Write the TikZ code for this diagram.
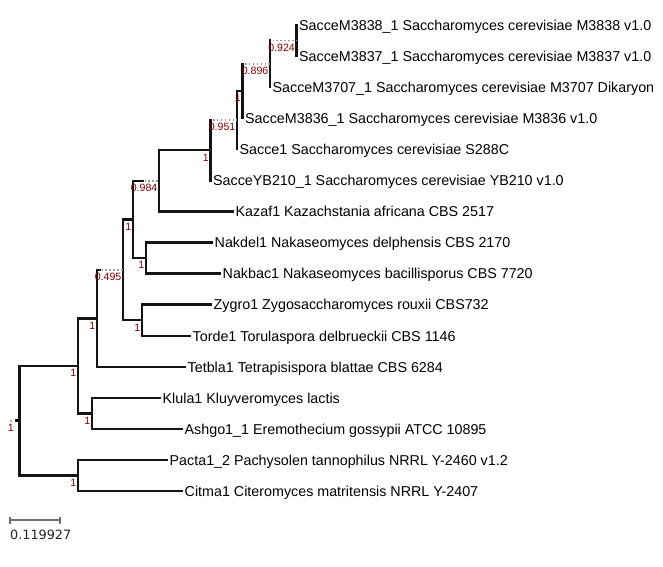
\documentclass[tikz,border=0pt]{standalone}
\usepackage{fontspec}
\setmainfont{Liberation Sans}
\newfontfamily\scalefont{DejaVu Sans}
\definecolor{suprt}{RGB}{128,0,0}
\definecolor{barg}{RGB}{110,110,110}
\begin{document}
\begin{tikzpicture}[x=1pt,y=-1pt,
  br/.style={line width=2.4pt,black!92,line cap=rect,line join=miter},
  dotbr/.style={line width=1.5pt,black!40,dash pattern=on 1.5pt off 2.4pt},
  leaf/.style={anchor=base west,inner sep=0pt,xshift=2.5pt,yshift=-5.3pt,font=\fontsize{14.3}{16}\selectfont},
  suplab/.style={anchor=base east,inner sep=0pt,text=suprt,font=\fontsize{10.6}{12}\selectfont},
  scalebar/.style={line width=1.6pt,barg}]
\useasboundingbox (0,0) rectangle (663,566);
% internal nodes
\coordinate (R) at (19.5,420.7);
\coordinate (N1) at (296.5,40.5);
\coordinate (N2) at (270,63.8);
\coordinate (N3) at (242.5,91);
\coordinate (N4) at (237,120.1);
\coordinate (N5) at (210.5,150.2);
\coordinate (N6) at (159,180.8);
\coordinate (N7) at (146,258);
\coordinate (N8) at (133,219.4);
\coordinate (N9) at (142,320.2);
\coordinate (N10) at (123,269.8);
\coordinate (N11) at (97,318.3);
\coordinate (N12) at (92,413.4);
\coordinate (N13) at (78,365.8);
\coordinate (N14) at (78,475.5);
% leaves
\coordinate (L1) at (296.5,25);
\coordinate (L2) at (296.5,56.07);
\coordinate (L3) at (270,87.14);
\coordinate (L4) at (242.5,118.21);
\coordinate (L5) at (237,149.28);
\coordinate (L6) at (210.5,180.35);
\coordinate (L7) at (233,211.42);
\coordinate (L8) at (212,242.49);
\coordinate (L9) at (220,273.56);
\coordinate (L10) at (211,304.63);
\coordinate (L11) at (190,335.7);
\coordinate (L12) at (185,366.77);
\coordinate (L13) at (160,397.84);
\coordinate (L14) at (182,428.91);
\coordinate (L15) at (167,459.98);
\coordinate (L16) at (182,491.05);
\node[leaf] (t1) at (L1) {SacceM3838\_1 Saccharomyces cerevisiae M3838 v1.0};
\node[leaf] (t2) at (L2) {SacceM3837\_1 Saccharomyces cerevisiae M3837 v1.0};
\node[leaf] (t3) at (L3) {SacceM3707\_1 Saccharomyces cerevisiae M3707 Dikaryon};
\node[leaf] (t4) at (L4) {SacceM3836\_1 Saccharomyces cerevisiae M3836 v1.0};
\node[leaf] (t5) at (L5) {Sacce1 Saccharomyces cerevisiae S288C};
\node[leaf] (t6) at (L6) {SacceYB210\_1 Saccharomyces cerevisiae YB210 v1.0};
\node[leaf] (t7) at (L7) {Kazaf1 Kazachstania africana CBS 2517};
\node[leaf] (t8) at (L8) {Nakdel1 Nakaseomyces delphensis CBS 2170};
\node[leaf] (t9) at (L9) {Nakbac1 Nakaseomyces bacillisporus CBS 7720};
\node[leaf] (t10) at (L10) {Zygro1 Zygosaccharomyces rouxii CBS732};
\node[leaf] (t11) at (L11) {Torde1 Torulaspora delbrueckii CBS 1146};
\node[leaf] (t12) at (L12) {Tetbla1 Tetrapisispora blattae CBS 6284};
\node[leaf] (t13) at (L13) {Klula1 Kluyveromyces lactis};
\node[leaf] (t14) at (L14) {Ashgo1\_1 Eremothecium gossypii ATCC 10895};
\node[leaf] (t15) at (L15) {Pacta1\_2 Pachysolen tannophilus NRRL Y-2460 v1.2};
\node[leaf] (t16) at (L16) {Citma1 Citeromyces matritensis NRRL Y-2407};
% leaf branches
\draw[br] (N1) |- (L1);
\draw[br] (N1) |- (L2);
\draw[br] (N2) |- (L3);
\draw[br] (N3) |- (L4);
\draw[br] (N4) |- (L5);
\draw[br] (N5) |- (L6);
\draw[br] (N6) |- (L7);
\draw[br] (N7) |- (L8);
\draw[br] (N7) |- (L9);
\draw[br] (N9) |- (L10);
\draw[br] (N9) |- (L11);
\draw[br] (N11) |- (L12);
\draw[br] (N12) |- (L13);
\draw[br] (N12) |- (L14);
\draw[br] (N14) |- (L15);
\draw[br] (N14) |- (L16);
% internal branches
\draw[br] (N2) -- (N2 |- N1);
\draw[dotbr] (N2 |- N1) ++(2.5,0) -- (N1);
\draw[br] (N3) -- (N3 |- N2);
\draw[dotbr] (N3 |- N2) ++(2.5,0) -- (N2);
\draw[br] (N4) |- (N3);
\draw[br] (N5) -- (N5 |- N4);
\draw[dotbr] (N5 |- N4) ++(2.5,0) -- (N4);
\draw[br] (N6) |- (N5);
\draw[br] (N8) |- ([xshift=10pt]N8 |- N6);
\draw[dotbr] ([xshift=11.5pt]N8 |- N6) -- (N6);
\draw[br] (N8) |- (N7);
\draw[br] (N10) |- (N8);
\draw[br] (N10) |- (N9);
\draw[br] (N11) |- ([xshift=3pt]N11 |- N10);
\draw[dotbr] ([xshift=4.5pt]N11 |- N10) -- (N10);
\draw[br] (N13) |- (N11);
\draw[br] (N13) |- (N12);
\draw[br] (R) |- (N13);
\draw[br] (R) |- (N14);
% root marker
\fill[black] (15.2,419.2) rectangle (18.4,422.2);
\fill[black!35] (10.2,419.9) rectangle (11.8,421.5);
% support values
\node[suplab] (s1) at (295,51.3) {0.924};
\node[suplab] (s2) at (268.5,74.6) {0.896};
\node[suplab] (s3) at (241,101.8) {1};
\node[suplab] (s4) at (235.5,130.9) {0.951};
\node[suplab] (s5) at (209,161) {1};
\node[suplab] (s6) at (157.5,191.6) {0.984};
\node[suplab] (s7) at (144.5,268.8) {1};
\node[suplab] (s8) at (131.5,230.2) {1};
\node[suplab] (s9) at (140.5,331) {1};
\node[suplab] (s10) at (121.5,280.6) {0.495};
\node[suplab] (s11) at (95.5,329.1) {1};
\node[suplab] (s12) at (90.5,424.2) {1};
\node[suplab] (s13) at (76.5,376.6) {1};
\node[suplab] (s14) at (76.5,486.3) {1};
\node[suplab] (s15) at (14,431) {1};
% scale bar
\coordinate (B1) at (10,520);
\coordinate (B2) at (60,520);
\draw[scalebar] (B1) -- (B2);
\draw[scalebar] ([yshift=3.5pt]B1) -- ([yshift=-3.5pt]B1);
\draw[scalebar] ([yshift=3.5pt]B2) -- ([yshift=-3.5pt]B2);
\node[anchor=base west,inner sep=0pt,text=black!85,font=\scalefont\fontsize{12.8}{14}\selectfont] (sb) at (10,539) {0.119927};
\end{tikzpicture}
\end{document}
